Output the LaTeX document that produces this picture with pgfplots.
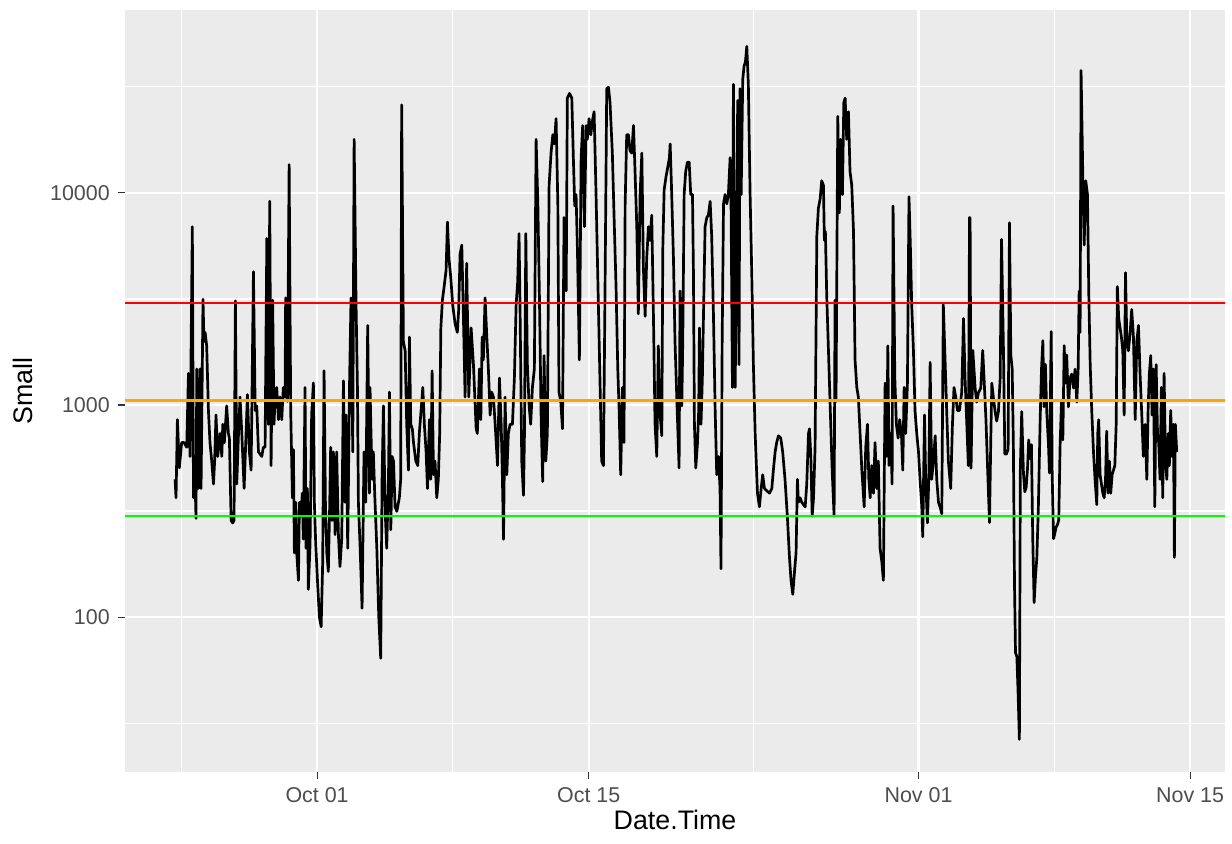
\documentclass[border=0pt]{standalone}
\usepackage{fontspec}
\setmainfont{Liberation Sans}
\usepackage{pgfplots}
\pgfplotsset{compat=1.18}

\definecolor{panelbg}{HTML}{EBEBEB}
\definecolor{tickgray}{HTML}{4D4D4D}
\definecolor{tickmark}{HTML}{333333}
\definecolor{ggred}{HTML}{FF0000}
\definecolor{ggorange}{HTML}{FFA500}
\definecolor{gggreen}{HTML}{00FF00}

\begin{document}
\begin{tikzpicture}
% 1 px of the reference = 504/1232 bp
\useasboundingbox (-51.14bp,-29.45bp) rectangle (452.86bp,315.82bp);
\begin{axis}[
  at={(0,0)}, anchor=south west,
  scale only axis, width=450bp, height=311.73bp,
  xmin=-9.90, xmax=46.80,
  ymode=log, ymin=18.6, ymax=72900,
  axis background/.style={fill=panelbg},
  axis line style={draw=none},
  xtick={0,14,31,45}, xticklabels={Oct 01,Oct 15,Nov 01,Nov 15},
  minor xtick={-7,7,22.5,38},
  ytick={100,1000,10000}, yticklabels={100,1000,10000},
  minor ytick={31.62,316.2,3162,31623},
  grid=both,
  major grid style={white, line width=0.9bp},
  minor grid style={white, line width=0.45bp},
  tick align=outside,
  major tick length=2.75pt,
  minor tick length=0pt,
  xtick pos=lower, ytick pos=left,
  tick style={tickmark, line width=0.45bp},
  ticklabel style={font=\fontsize{8.8}{10}\selectfont, text=tickgray},
  /pgf/number format/assume math mode=true,
  xlabel={Date.Time}, ylabel={Small},
  label style={font=\fontsize{11}{13}\selectfont},
  xlabel style={at={(axis description cs:0.5,-0.0625)}, anchor=center},
  ylabel style={at={(axis description cs:-0.0927,0.5)}, anchor=center},
  clip=true,
]

%--- Small over time ---
\addplot[black, line width=1.1bp, line join=round] coordinates {
(-7.32,446) (-7.27,365) (-7.20,853) (-7.10,505) (-6.98,665) (-6.86,665) (-6.72,632) (-6.63,1410) (-6.55,572) (-6.43,6930) (-6.37,365) (-6.29,446) (-6.24,292) (-6.20,1480) (-6.12,404) (-6.03,1480) (-5.98,404) (-5.88,3150) (-5.83,1990) (-5.77,2200) (-5.69,1900) (-5.60,942) (-5.52,665) (-5.43,544) (-5.34,424) (-5.28,544) (-5.21,897) (-5.12,572) (-5.00,734) (-4.91,572) (-4.86,811) (-4.78,665) (-4.66,991) (-4.57,734) (-4.52,698) (-4.43,285) (-4.35,278) (-4.28,285) (-4.21,3100) (-4.14,424) (-4.05,734) (-3.97,1090) (-3.88,734) (-3.76,404) (-3.66,734) (-3.59,1120) (-3.49,601) (-3.40,493) (-3.28,4250) (-3.19,942) (-3.11,991) (-3.02,601) (-2.85,572) (-2.77,632) (-2.68,632) (-2.59,6100) (-2.51,811) (-2.44,9130)
(-2.37,518) (-2.29,3120) (-2.22,811) (-2.15,1150) (-2.08,1210) (-1.99,853) (-1.91,1090) (-1.82,853) (-1.74,1210) (-1.65,1090) (-1.62,3200) (-1.53,1040) (-1.44,13600) (-1.36,942) (-1.27,365) (-1.22,616) (-1.17,201) (-1.10,348) (-1.05,201) (-0.96,149) (-0.91,348) (-0.84,299) (-0.76,384) (-0.71,233) (-0.62,1210) (-0.57,211) (-0.50,404) (-0.45,135) (-0.36,222) (-0.28,897) (-0.19,1270) (-0.14,348) (-0.07,222) (0.02,149) (0.12,100) (0.21,90) (0.29,182) (0.36,1450) (0.43,348) (0.50,201) (0.58,164) (0.64,299) (0.70,632) (0.77,285) (0.84,601) (0.93,245) (1.01,601) (1.10,245) (1.18,173) (1.27,233) (1.36,1300) (1.44,348) (1.49,897) (1.58,211) (1.67,1210) (1.75,3200) (1.84,601) (1.91,17900) (2.01,2970) (2.08,1210) (2.13,348) (2.22,211) (2.32,110) (2.42,601) (2.51,348) (2.61,2370) (2.70,384)
(2.73,1210) (2.78,734) (2.84,446) (2.90,601) (2.97,384) (3.08,211) (3.18,100) (3.28,64) (3.35,446) (3.42,991) (3.51,315) (3.59,211) (3.68,446) (3.73,1150) (3.80,258) (3.87,572) (3.94,544) (4.02,331) (4.11,315) (4.24,365) (4.31,446) (4.36,26000) (4.45,1990) (4.54,1800) (4.62,811) (4.71,493) (4.76,2090) (4.83,811) (4.91,772) (4.97,665) (5.09,544) (5.19,518) (5.27,734) (5.36,942) (5.45,1210) (5.53,811) (5.62,601) (5.69,404) (5.79,853) (5.86,446) (5.93,1450) (6.00,469) (6.08,544) (6.17,365) (6.25,446) (6.32,734) (6.38,2310) (6.46,3120) (6.55,3620) (6.65,4320) (6.72,7290) (6.80,4890) (6.89,4010) (6.99,2970) (7.11,2430) (7.23,2200) (7.30,2820) (7.37,5140) (7.46,5680) (7.54,2690) (7.63,1090) (7.71,4660) (7.82,1090)
(7.94,2310) (8.06,1550) (8.20,772) (8.26,734) (8.37,1480) (8.44,853) (8.51,2090) (8.57,1630) (8.66,3200) (8.75,2090) (8.83,1480) (8.92,897) (9.00,1150) (9.09,1090) (9.18,811) (9.30,518) (9.40,1340) (9.49,811) (9.55,469) (9.61,233) (9.69,1090) (9.78,469) (9.86,734) (9.95,811) (10.07,811) (10.17,1340) (10.26,2970) (10.34,3810) (10.41,6430) (10.46,2970) (10.55,544) (10.64,375) (10.69,734) (10.76,6430) (10.84,1550) (10.93,991) (11.01,811) (11.10,1210) (11.20,1480) (11.29,17900) (11.38,8890) (11.46,3280) (11.55,853) (11.63,435) (11.70,1710) (11.79,544) (11.87,734) (11.96,10870) (12.06,15400) (12.15,18800) (12.23,17020) (12.32,22400) (12.41,8890) (12.47,1150) (12.56,1040) (12.65,772) (12.73,7660) (12.84,3450) (12.90,28000) (13.01,29450)
(13.13,28000) (13.21,14660) (13.28,8680) (13.35,9830) (13.42,5410) (13.52,1630) (13.61,14660) (13.69,20780) (13.78,6930) (13.87,20780) (13.93,17890) (14.02,22400) (14.11,18800) (14.19,21850) (14.28,24150) (14.38,9830) (14.48,3620) (14.59,1210) (14.67,544) (14.76,518) (14.84,3280) (14.93,30970) (15.02,31500) (15.10,26650) (15.22,15400) (15.31,7660) (15.41,3620) (15.50,1480) (15.57,942) (15.65,469) (15.74,1210) (15.82,665) (15.88,8890) (15.96,18800) (16.05,18800) (16.13,15800) (16.22,15400) (16.31,20780) (16.39,12620) (16.48,6930) (16.56,2690) (16.65,9830) (16.74,15400) (16.82,4430) (16.91,2620) (16.99,4890) (17.08,6930) (17.16,5970) (17.25,7850) (17.34,2560) (17.42,811) (17.51,572) (17.59,1900) (17.68,897) (17.77,716) (17.82,5410) (17.89,10350) (17.99,12000) (18.08,13280) (18.16,14660)
(18.20,17020) (18.28,9830) (18.37,4890) (18.45,1990) (18.57,897) (18.66,505) (18.71,3450) (18.80,991) (18.85,1990) (18.92,9830) (19.00,12620) (19.09,13950) (19.18,13950) (19.26,9830) (19.35,9830) (19.40,4210) (19.45,811) (19.52,505) (19.61,665) (19.67,942) (19.71,2310) (19.79,811) (19.86,1340) (19.91,2430) (20.00,6930) (20.09,7660) (20.17,7850) (20.26,9130) (20.34,6280) (20.43,2690) (20.52,942) (20.60,469) (20.69,572) (20.77,404) (20.82,169) (20.88,1990) (20.95,8890) (21.03,9830) (21.12,8890) (21.20,9830) (21.29,14660) (21.34,8470) (21.41,1210) (21.46,32500) (21.55,1210) (21.63,5410) (21.68,27300) (21.75,1550) (21.80,30970) (21.86,9830) (21.94,34200) (22.01,39700) (22.08,41600) (22.15,49100) (22.23,32500) (22.32,9830) (22.41,4010) (22.49,1550) (22.58,734) (22.70,384) (22.80,331) (22.89,404) (22.97,469) (23.06,404) (23.18,394) (23.32,384)
(23.44,404) (23.52,493) (23.61,601) (23.69,665) (23.78,716) (23.90,698) (24.00,601) (24.12,446) (24.24,299) (24.35,191) (24.43,149) (24.52,128) (24.61,164) (24.69,201) (24.76,446) (24.81,348) (24.90,365) (24.98,348) (25.07,339) (25.16,331) (25.24,424) (25.33,734) (25.38,772) (25.45,572) (25.52,299) (25.59,365) (25.67,632) (25.76,6280) (25.84,8470) (25.93,9360) (26.01,11420) (26.10,10870) (26.15,5970) (26.20,6590) (26.27,3280) (26.36,1800) (26.44,1040) (26.55,493) (26.65,299) (26.70,3120) (26.75,1040) (26.84,22970) (26.92,8050) (26.99,17890) (27.08,9830) (27.15,26650) (27.22,28000) (27.30,17890) (27.39,24150) (27.47,12620) (27.56,10870) (27.65,6590) (27.73,1630) (27.82,1210) (27.90,1090) (27.99,734) (28.08,493) (28.20,331) (28.28,632) (28.37,811) (28.44,446)
(28.51,365) (28.59,518) (28.68,384) (28.76,665) (28.85,404) (28.93,544) (29.02,211) (29.11,182) (29.19,149) (29.28,1270) (29.36,572) (29.42,1900) (29.48,518) (29.57,734) (29.64,424) (29.69,8680) (29.78,1340) (29.86,811) (29.95,698) (30.03,853) (30.12,734) (30.19,493) (30.26,1210) (30.34,734) (30.43,1270) (30.51,9590) (30.58,5680) (30.65,2970) (30.74,1800) (30.82,942) (30.91,734) (31.00,601) (31.08,446) (31.17,331) (31.22,239) (31.31,897) (31.37,446) (31.46,278) (31.53,446) (31.60,1590) (31.68,446) (31.77,544) (31.86,716) (31.94,446) (32.03,348) (32.11,331) (32.20,307) (32.28,2970) (32.37,1630) (32.46,897) (32.54,544) (32.66,404) (32.75,811) (32.83,1210) (32.92,1090) (33.01,942) (33.11,942) (33.23,1150) (33.32,2560) (33.40,1340) (33.49,811) (33.57,518) (33.63,7660)
(33.66,7600) (33.71,503) (33.80,1810) (33.92,1203) (34.00,1032) (34.09,1143) (34.21,1203) (34.31,1810) (34.38,1333) (34.48,840) (34.57,478) (34.66,279) (34.73,721) (34.78,1268) (34.86,1085) (34.95,931) (35.03,840) (35.12,931) (35.21,1333) (35.28,6040) (35.38,1810) (35.45,587) (35.53,587) (35.62,618) (35.69,7230) (35.76,1720) (35.83,1476) (35.89,650) (35.95,140) (36.00,68) (36.07,65) (36.13,45) (36.20,26.5) (36.25,503) (36.32,931) (36.41,478) (36.48,390) (36.55,410) (36.62,503) (36.68,685) (36.75,558) (36.82,650) (36.89,234) (36.96,117) (37.03,155) (37.10,190) (37.18,334) (37.27,840) (37.34,1476) (37.41,2010) (37.47,980) (37.54,1555) (37.61,931) (37.70,650) (37.75,478) (37.84,2220) (37.89,478) (37.96,234) (38.02,246) (38.09,265) (38.16,272) (38.23,287) (38.30,650) (38.37,1032) (38.44,685) (38.51,1905) (38.57,1268) (38.64,1720) (38.73,980) (38.81,1333) (38.90,1400) (38.99,1203) (39.07,1476) (39.16,1032) (39.23,1476) (39.28,3440)
(39.33,2200) (39.38,37800) (39.47,12000) (39.54,5680) (39.62,11420) (39.71,9830) (39.78,3280) (39.85,1550) (39.93,942) (40.02,601) (40.10,446) (40.19,339) (40.24,734) (40.29,853) (40.36,469) (40.43,424) (40.50,384) (40.57,365) (40.64,446) (40.70,753) (40.77,384) (40.84,544) (40.91,384) (40.98,469) (41.05,493) (41.12,518) (41.19,811) (41.25,3620) (41.32,2560) (41.39,2310) (41.46,2090) (41.53,1800) (41.60,897) (41.67,4210) (41.74,1990) (41.82,1800) (41.91,2200) (41.99,2820) (42.08,2090) (42.17,853) (42.25,1990) (42.34,2370) (42.42,1410) (42.51,897) (42.59,572) (42.68,811) (42.77,446) (42.84,991) (42.90,1410) (42.97,1710) (43.04,897) (43.11,1480) (43.18,331) (43.25,1550) (43.32,734) (43.38,665) (43.45,446) (43.52,1210) (43.59,365) (43.66,1410) (43.73,544) (43.80,446) (43.87,734) (43.93,518) (44.00,942) (44.07,572) (44.14,811) (44.19,191) (44.24,811) (44.31,601)
};

%--- reference levels ---
\addplot[ggred, line width=0.85bp] coordinates {(-12,3030) (50,3030)};
\addplot[ggorange, line width=0.85bp] coordinates {(-12,1050) (50,1050)};
\addplot[gggreen, line width=0.85bp] coordinates {(-12,300) (50,300)};

\end{axis}
\end{tikzpicture}
\end{document}
